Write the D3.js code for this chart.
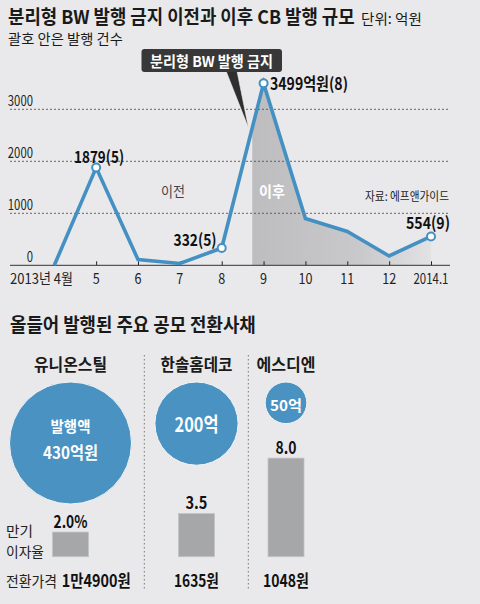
<!DOCTYPE html>
<html><head><meta charset="utf-8">
<script src="https://cdn.jsdelivr.net/npm/d3@7"></script>
<style>
html,body{margin:0;padding:0;background:#e9e9eb;}
svg{display:block;font-family:"Noto Sans CJK KR","Noto Sans",sans-serif;}
</style></head><body>
<svg id="c" width="480" height="604"></svg>
<script>
// ---------- data ----------
const months = ["2013년 4월","5","6","7","8","9","10","11","12","2014.1"];
const cbValues = [0,1879,110,35,332,3499,900,650,180,554];
const pointLabels = ["","1879(5)","","","332(5)","3499억원(8)","","","","554(9)"];
const yTicks = [0,1000,2000,3000];
const companies = ["유니온스틸","한솔홈데코","에스디엔"];
const issueAmounts = [430,200,50];
const amountLabels = [["발행액","430억원"],["200억"],["50억"]];
const rates = [2.0,3.5,8.0];
const rateLabels = ["2.0%","3.5","8.0"];
const convPrices = ["1만4900원","1635원","1048원"];

const svg = d3.select("#c");
const BLUE = "#4490c3";
// horizontally scale a text so that its width equals w (scales around its anchor x)
function fit(sel, w){
  const node = sel.node();
  const L = node.getComputedTextLength();
  if (L > 0) {
    const sx = w / L;
    const x0 = +sel.attr("x"), y0 = +sel.attr("y");
    sel.attr("transform", `translate(${x0},${y0}) scale(${sx},1) translate(${-x0},${-y0})`);
  }
  return sel;
}
function txt(x,y,s,opt={}){
  const t = svg.append("text").attr("x",x).attr("y",y).text(s)
    .attr("font-size",opt.size||14).attr("font-weight",opt.bold?"bold":"normal")
    .attr("fill",opt.fill||"#1a1a1a").attr("text-anchor",opt.anchor||"start");
  if(opt.w) fit(t,opt.w);
  return t;
}

// ---------- titles ----------
txt(8,24,"분리형 BW 발행 금지 이전과 이후 CB 발행 규모",{size:19,bold:true,w:347});
txt(361,24,"단위: 억원",{size:14,w:61});
txt(8,44,"괄호 안은 발행 건수",{size:14,w:115});

// ---------- line chart ----------
const x = d3.scalePoint().domain(months).range([54.3,431]);
const y = d3.scaleLinear().domain([0,3000]).range([265.3,109.3]);
const data = months.map((m,i)=>({m, v:cbValues[i], label:pointLabels[i]}));
const step = x.step();
const afterX = x("9") - 0.27*step;

const defs = svg.append("defs");
const g = defs.append("linearGradient").attr("id","ag")
  .attr("gradientUnits","userSpaceOnUse").attr("x1",afterX).attr("x2",450).attr("y1",0).attr("y2",0);
g.append("stop").attr("offset",0).attr("stop-color","#bdbdbf");
g.append("stop").attr("offset",0.55).attr("stop-color","#c9c9cb");
g.append("stop").attr("offset",1).attr("stop-color","#e9e9eb");
defs.append("clipPath").attr("id","ac").append("rect")
  .attr("x",afterX).attr("y",0).attr("width",450-afterX).attr("height",300);

svg.append("path").datum(data)
  .attr("d", d3.area().x(d=>x(d.m)).y0(y(0)).y1(d=>y(d.v)))
  .attr("fill","url(#ag)").attr("clip-path","url(#ac)");

// grid lines
svg.append("g").selectAll("line").data(yTicks.filter(t=>t>0)).join("line")
  .attr("x1",10).attr("x2",450).attr("y1",d=>y(d)).attr("y2",d=>y(d))
  .attr("stroke","#555").attr("stroke-width",0.9).attr("stroke-dasharray","2,2");
// y tick labels
svg.append("g").selectAll("text").data(yTicks).join("text")
  .attr("x",33).attr("y",d=>y(d)-3.5).attr("text-anchor","end")
  .attr("font-size",14.5).attr("fill","#222").text(d=>d)
  .each(function(d){ fit(d3.select(this), String(d).length*6.3); });

// x axis
const xAxis = d3.axisBottom(x).tickSize(-4).tickFormat("").tickSizeOuter(0);
const ax = svg.append("g").attr("transform",`translate(0,${y(0)})`).call(xAxis);
ax.select(".domain").remove();
ax.selectAll("line").attr("stroke","#222");
svg.append("line").attr("x1",10).attr("x2",450).attr("y1",y(0)).attr("y2",y(0)).attr("stroke","#333").attr("stroke-width",1);
svg.append("g").selectAll("text").data(months).join("text")
  .attr("x",(d,i)=> i===0 ? 73 : x(d)).attr("y",284.5)
  .attr("text-anchor",(d,i)=> i===0 ? "end" : "middle")
  .attr("font-size",15).attr("fill","#222").text(d=>d)
  .each(function(d,i){
    const s = d3.select(this);
    if(i===0) fit(s,63);
    else if(d==="2014.1") fit(s,35);
    else fit(s, d.length*7);
  });

// region labels
txt(173,197,"이전",{size:15,fill:"#444",anchor:"middle",w:24});
txt(272,197,"이후",{size:15,bold:true,fill:"#fff",anchor:"middle",w:26});
txt(449,201,"자료: 에프앤가이드",{size:12,fill:"#222",anchor:"end",w:84});

// line
svg.append("path").datum(data)
  .attr("d", d3.line().x(d=>x(d.m)).y(d=>y(d.v)))
  .attr("fill","none").attr("stroke",BLUE).attr("stroke-width",3.6).attr("stroke-linejoin","miter");

// callout
svg.append("path").attr("d","M226,71 L237,71 L248.5,128 Z").attr("fill","#2e2e2e").attr("stroke","#f4f4f4").attr("stroke-width",0.6);
svg.append("rect").attr("x",141.5).attr("y",49).attr("width",140.5).attr("height",23).attr("rx",3).attr("fill","#383838");
txt(211.5,67,"분리형 BW 발행 금지",{size:15,bold:true,fill:"#fff",anchor:"middle",w:123});

// markers + labels
const labeled = data.filter(d=>d.label);
svg.append("g").selectAll("circle").data(labeled).join("circle")
  .attr("cx",d=>x(d.m)).attr("cy",d=>y(d.v)).attr("r",4)
  .attr("fill","#fff").attr("stroke",BLUE).attr("stroke-width",2);
const labPos = {"1879(5)":[99,163,"middle",50],"332(5)":[195,246.5,"middle",43],"3499억원(8)":[270,90,"start",78],"554(9)":[428,229,"middle",44]};
labeled.forEach(d=>{
  const p = labPos[d.label];
  txt(p[0],p[1],d.label,{size:16.5,bold:true,anchor:p[2],w:p[3],fill:"#111"});
});

// ---------- bottom section ----------
txt(10,332,"올들어 발행된 주요 공모 전환사채",{size:19,bold:true,w:246});
[144.3,248.3].forEach(xx=>{
  svg.append("line").attr("x1",xx).attr("x2",xx).attr("y1",355).attr("y2",589)
    .attr("stroke","#777").attr("stroke-width",1).attr("stroke-dasharray","1.5,2.5");
});
const cx = [70.5,196.5,286];
const nameW = [73,72,59];
const r = d3.scaleSqrt().domain([0,430]).range([0,61]);
const topY = 382;
companies.forEach((c,i)=>{
  txt(cx[i],371,c,{size:17,bold:true,anchor:"middle",w:nameW[i]});
});
svg.append("g").selectAll("circle").data(issueAmounts).join("circle")
  .attr("cx",(d,i)=>cx[i]).attr("cy",d=>topY+r(d)).attr("r",d=>r(d))
  .attr("fill","#4a92c1").attr("stroke","#f3f3f3").attr("stroke-width",1);
txt(cx[0],432,amountLabels[0][0],{size:15,bold:true,fill:"#fff",anchor:"middle",w:40});
txt(cx[0],459,amountLabels[0][1],{size:17,bold:true,fill:"#fff",anchor:"middle",w:55});
txt(cx[1],432,amountLabels[1][0],{size:20,bold:true,fill:"#fff",anchor:"middle",w:44});
txt(cx[2],411,amountLabels[2][0],{size:15,bold:true,fill:"#fff",anchor:"middle",w:32});

const barBase = 556.7;
const by = d3.scaleLinear().domain([0,8]).range([barBase, barBase-98.6]);
const barW = 36;
svg.append("g").selectAll("rect").data(rates).join("rect")
  .attr("x",(d,i)=>cx[i]-barW/2).attr("y",d=>by(d)).attr("width",barW).attr("height",d=>barBase-by(d))
  .attr("fill","#a6a7a9").attr("stroke","#c4c4c6").attr("stroke-width",0.8);
const rlW = [34,22,21];
rates.forEach((d,i)=>{
  txt(cx[i],by(d)-4.5,rateLabels[i],{size:17,bold:true,anchor:"middle",w:rlW[i],fill:"#111"});
});
txt(6,536.5,"만기",{size:14,fill:"#222",w:27});
txt(6,557,"이자율",{size:14,fill:"#222",w:38});
txt(6,587,"전환가격",{size:15,fill:"#222",w:51});
txt(61.7,587,convPrices[0],{size:17,bold:true,w:69,fill:"#111"});
txt(cx[1],587,convPrices[1],{size:17,bold:true,anchor:"middle",w:45,fill:"#111"});
txt(cx[2],587,convPrices[2],{size:17,bold:true,anchor:"middle",w:46,fill:"#111"});
</script></body></html>
